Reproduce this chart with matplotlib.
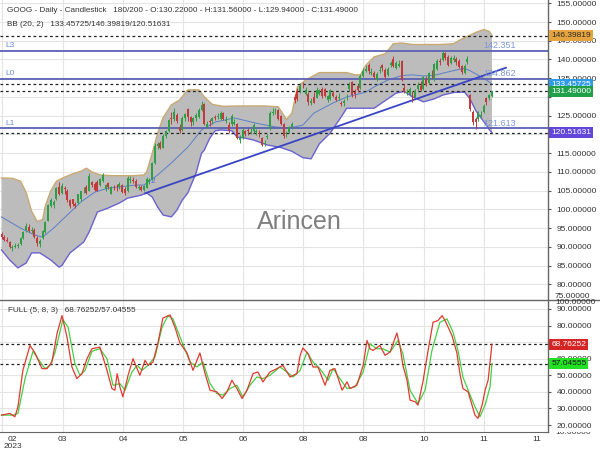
import matplotlib
matplotlib.use('Agg')
import matplotlib.pyplot as plt
from matplotlib.transforms import blended_transform_factory
from matplotlib.lines import Line2D

plt.rcParams['font.family'] = ['Liberation Sans', 'DejaVu Sans']

# ---------------- data ----------------
opens = [93.5, 92.7, 91.9, 91.2, 89.6, 90.0, 90.2, 90.9, 92.5, 94.4,
         95.2, 94.3, 94.5, 92.4, 90.8, 92.4, 94.1, 97.0, 100.9, 101.1,
         102.7, 105.9, 104.3, 105.8, 105.0, 102.4, 102.7, 101.4, 101.7, 102.7,
         104.8, 106.1, 105.0, 107.4, 106.9, 107.4, 106.5, 107.7, 105.4, 107.0,
         104.2, 106.1, 106.1, 106.0, 106.6, 105.5, 105.0, 107.8, 107.9, 107.7,
         105.6, 106.1, 105.3, 105.8, 107.4, 108.1, 112.3, 116.8, 117.7, 116.5,
         119.6, 121.0, 124.4, 124.1, 125.1, 122.1, 121.3, 124.4, 126.7, 124.6,
         123.3, 124.4, 124.6, 126.5, 128.0, 122.1, 123.5, 123.5, 124.6, 124.7,
         124.0, 125.7, 123.6, 122.5, 122.7, 122.8, 122.8, 118.6, 119.1, 120.8,
         121.1, 120.3, 120.9, 120.6, 120.3, 119.1, 117.4, 119.3, 121.5, 125.7,
         125.9, 126.5, 124.8, 122.8, 120.0, 120.6, 122.0, 130.1, 131.6, 131.6,
         133.2, 130.9, 130.9, 128.3, 130.0, 129.8, 130.7, 132.1, 132.0, 129.1,
         129.4, 131.1, 130.1, 129.8, 128.5, 128.4, 129.9, 132.0, 134.0, 131.4,
         133.0, 132.3, 135.6, 137.0, 138.4, 136.4, 136.3, 134.6, 136.9, 138.5,
         137.1, 135.9, 138.4, 140.2, 137.6, 138.3, 139.6, 132.4, 131.1, 130.9,
         131.3, 130.0, 132.0, 133.0, 132.1, 134.9, 133.7, 136.1, 134.9, 137.5,
         139.5, 139.8, 141.6, 140.7, 139.0, 139.9, 140.2, 139.7, 138.2, 136.4,
         139.2, 130.4, 126.0, 124.0, 124.2, 125.0, 125.9, 129.6, 129.6, 130.22]
highs = [94.0, 93.2, 92.6, 91.5, 90.6, 91.0, 91.1, 92.6, 94.3, 96.3,
         96.1, 95.2, 95.0, 92.8, 92.2, 94.6, 97.0, 101.5, 103.0, 102.6,
         106.0, 107.4, 107.0, 106.2, 105.4, 102.9, 102.9, 101.9, 104.2, 105.0,
         106.1, 106.6, 109.6, 107.6, 107.2, 107.8, 108.3, 109.6, 106.9, 107.2,
         106.3, 106.6, 106.8, 107.2, 106.9, 106.0, 109.0, 108.8, 108.6, 108.0,
         106.6, 106.4, 106.5, 108.6, 108.3, 112.7, 117.7, 118.0, 118.2, 120.0,
         121.2, 124.2, 126.0, 127.0, 125.8, 122.9, 124.9, 125.7, 127.1, 124.9,
         124.7, 125.6, 127.0, 129.0, 128.4, 123.7, 124.0, 124.7, 125.2, 125.6,
         126.2, 126.0, 124.8, 123.3, 125.4, 124.0, 123.0, 119.8, 121.6, 121.2,
         121.6, 121.6, 123.0, 121.5, 121.1, 119.4, 118.4, 120.2, 126.2, 127.1,
         127.0, 126.9, 125.3, 123.0, 121.0, 122.2, 123.2, 130.8, 132.4, 133.7,
         134.0, 132.6, 131.2, 129.7, 131.3, 132.6, 132.2, 132.7, 132.4, 130.6,
         132.2, 131.6, 130.6, 131.0, 129.0, 129.4, 130.8, 134.0, 134.3, 132.0,
         133.5, 136.0, 137.6, 138.6, 139.0, 137.7, 136.9, 136.6, 138.2, 138.9,
         137.6, 137.9, 139.7, 140.8, 139.5, 139.8, 139.9, 133.5, 132.2, 132.6,
         131.5, 132.0, 134.0, 134.2, 135.5, 135.6, 136.6, 137.1, 139.0, 140.0,
         140.5, 142.2, 142.1, 141.1, 140.9, 141.2, 140.6, 140.2, 138.6, 138.8,
         140.8, 130.9, 126.4, 124.7, 126.2, 126.2, 128.1, 129.9, 130.8, 131.56]
lows = [92.2, 91.5, 91.2, 89.7, 89.0, 89.6, 89.8, 90.6, 92.2, 94.0,
        93.9, 93.6, 92.4, 90.3, 90.0, 92.0, 93.8, 96.8, 100.6, 100.3,
        102.5, 103.9, 104.0, 104.2, 102.0, 100.3, 101.0, 100.3, 101.4, 102.3,
        104.4, 104.1, 104.8, 105.9, 104.9, 104.9, 106.2, 107.4, 104.9, 105.5,
        104.0, 105.2, 104.9, 105.4, 104.3, 103.9, 104.6, 107.0, 107.1, 105.6,
        105.1, 104.8, 104.9, 105.6, 106.9, 107.9, 112.0, 116.2, 116.0, 116.3,
        119.0, 120.6, 122.9, 123.5, 123.0, 120.3, 120.9, 123.7, 123.6, 122.2,
        122.6, 123.6, 124.4, 126.3, 122.6, 121.6, 122.3, 122.9, 123.8, 124.1,
        123.9, 123.9, 123.0, 120.5, 122.2, 122.4, 118.9, 117.8, 118.7, 119.6,
        119.9, 120.0, 120.5, 119.8, 119.4, 116.8, 116.9, 118.9, 121.3, 125.1,
        125.4, 123.8, 122.4, 119.0, 119.3, 120.4, 121.5, 128.3, 128.8, 131.1,
        132.5, 130.6, 127.9, 127.8, 128.3, 129.6, 130.4, 129.8, 129.9, 128.6,
        129.2, 129.9, 128.8, 129.3, 127.5, 127.6, 129.2, 131.7, 130.1, 129.6,
        131.3, 132.0, 135.2, 136.6, 136.2, 135.8, 134.8, 134.2, 136.5, 136.8,
        134.9, 135.5, 138.0, 138.0, 137.4, 137.9, 134.3, 131.0, 130.5, 130.4,
        128.6, 129.6, 131.3, 131.6, 131.9, 132.8, 133.4, 135.0, 134.3, 137.3,
        138.6, 139.5, 139.9, 138.2, 138.7, 139.4, 138.6, 137.6, 136.2, 136.0,
        138.8, 126.3, 122.5, 121.5, 123.6, 124.3, 125.6, 127.9, 129.1, 129.94]
closes = [92.6, 91.8, 91.6, 90.1, 90.1, 90.3, 90.5, 92.3, 94.0, 95.6,
          94.2, 94.6, 92.7, 91.0, 91.7, 94.3, 96.6, 101.1, 102.5, 101.9,
          105.8, 104.2, 106.3, 105.4, 102.5, 101.0, 101.4, 100.9, 104.0, 104.9,
          105.0, 104.5, 108.9, 106.4, 105.1, 105.0, 108.1, 109.2, 106.4, 105.9,
          105.9, 105.9, 105.9, 106.8, 104.6, 104.4, 108.4, 108.2, 107.7, 105.9,
          106.1, 105.2, 106.2, 108.2, 107.9, 112.3, 117.0, 117.5, 116.5, 119.5,
          120.8, 123.8, 124.0, 126.0, 123.5, 120.9, 124.4, 125.4, 124.6, 123.4,
          124.4, 125.2, 126.6, 127.9, 122.9, 122.7, 123.4, 124.4, 124.4, 124.9,
          125.8, 124.1, 123.9, 121.3, 125.0, 123.2, 119.1, 119.0, 121.1, 120.0,
          121.0, 120.6, 122.6, 120.9, 120.1, 117.3, 117.7, 119.6, 125.7, 126.0,
          126.2, 124.1, 122.8, 119.5, 120.3, 121.9, 122.8, 129.3, 129.4, 133.0,
          133.1, 131.9, 128.6, 128.8, 128.5, 131.9, 131.8, 130.2, 130.2, 130.2,
          131.8, 130.3, 129.1, 130.0, 128.1, 128.9, 130.0, 133.2, 130.4, 130.7,
          131.8, 135.5, 136.9, 137.4, 136.8, 136.7, 135.4, 136.2, 137.2, 137.7,
          135.3, 137.5, 139.0, 138.3, 139.0, 138.8, 134.6, 131.4, 131.3, 132.2,
          129.5, 131.5, 133.1, 131.9, 135.2, 133.3, 136.3, 136.0, 138.7, 139.5,
          139.2, 141.7, 140.3, 138.6, 140.5, 140.3, 139.3, 138.0, 136.7, 138.3,
          140.1, 126.7, 123.4, 123.4, 125.8, 125.3, 127.6, 128.6, 130.4, 131.49]

bb_upper_x = [0, 4, 7, 9, 11, 13, 15, 16, 18, 20, 23, 26, 29, 31, 33, 36, 40, 44, 48, 52,
              53, 55, 57, 59, 62, 65, 68, 72, 74, 77, 81, 86, 91, 96, 101, 104, 106, 108, 111, 116,
              121, 126, 129, 131, 133, 136, 140, 143, 146, 150, 155, 160, 165, 168, 171, 173, 176, 178, 179]
bb_upper = [108.4, 108.3, 107.5, 104.5, 99.5, 96.8, 97.3, 101.0, 105.0, 107.5, 108.6, 109.5, 110.2, 111.0, 110.0, 109.2, 109.0, 109.0, 109.0, 109.2,
            110.0, 115.0, 120.4, 124.5, 127.9, 129.2, 131.9, 131.9, 130.0, 128.0, 127.5, 127.6, 127.6, 127.6, 127.4, 124.0, 125.7, 132.7, 134.5, 136.5,
            136.5, 136.5, 135.9, 135.9, 138.5, 140.7, 141.5, 144.2, 144.4, 144.0, 144.0, 144.0, 144.2, 145.5, 146.5, 147.2, 148.0, 147.5, 146.39819]
bb_mid_x = [0, 7, 12, 15, 19, 24, 29, 34, 39, 49, 52, 57, 62, 68, 73, 78, 85, 93, 100, 105,
            110, 114, 121, 126, 133, 136, 141, 146, 150, 154, 158, 162, 166, 169, 171, 174, 177, 179]
bb_mid = [98.0, 95.0, 93.2, 92.6, 95.0, 98.5, 102.0, 104.6, 105.7, 106.5, 106.5, 109.2, 112.4, 116.6, 121.2, 123.3, 124.4, 123.0, 122.0, 121.7,
          122.5, 125.7, 128.4, 130.0, 131.3, 132.7, 134.5, 135.7, 135.9, 135.6, 135.8, 136.5, 137.2, 137.6, 137.0, 135.8, 134.5, 133.45725]
bb_lower_x = [0, 3, 6, 9, 11, 14, 18, 21, 22, 25, 30, 32, 35, 39, 43, 46, 51, 53, 55, 57,
              59, 62, 64, 66, 68, 71, 73, 74, 76, 78, 80, 84, 86, 89, 92, 97, 102, 106, 110, 113,
              116, 120, 124, 126, 131, 136, 140, 144, 147, 150, 154, 158, 161, 165, 169, 171, 173, 175, 177, 178, 179]
bb_lower = [89.2, 86.5, 84.4, 85.7, 88.4, 88.4, 86.5, 84.6, 85.0, 88.4, 91.3, 94.0, 99.3, 100.4, 101.7, 103.0, 103.8, 104.4, 103.3, 100.6,
            98.5, 98.0, 99.8, 102.5, 104.4, 109.7, 115.0, 115.8, 119.0, 121.0, 121.2, 121.0, 119.3, 119.0, 118.5, 117.2, 116.5, 115.5, 113.8, 113.5,
            117.5, 120.4, 124.7, 127.0, 127.0, 127.0, 129.0, 131.0, 131.5, 130.0, 128.7, 129.5, 130.5, 131.2, 131.3, 129.5, 126.5, 124.4, 122.5, 121.3, 120.51631]

stoch_k_x = [0, 3.1, 4.9, 6.0, 7.8, 10.4, 12.2, 14.8, 16.6, 18.4, 20.3, 22.1, 23.9, 25.7, 27.5, 29.4, 31.2, 33.0, 35.9, 38.5,
             40.3, 41.4, 42.2, 43.2, 44.3, 46.2, 48.0, 50.5, 52.4, 53.5, 55.3, 57.1, 58.9, 61.5, 63.3, 65.1, 67.7, 69.9, 72.4, 74.3,
             76.1, 78.6, 80.5, 82.3, 84.1, 85.9, 87.8, 89.6, 91.8, 93.6, 95.4, 98.0, 100.5, 102.7, 105.3, 107.8, 109.0, 110.0, 111.9, 113.7,
             115.5, 118.1, 119.9, 121.7, 124.3, 126.1, 127.2, 129.7, 132.0, 133.4, 134.5, 135.6, 138.1, 140.0, 141.8, 144.3, 145.4, 146.5, 148.0, 149.1,
             151.0, 152.0, 153.8, 155.7, 157.5, 159.3, 160.8, 161.9, 164.4, 166.2, 167.3, 168.4, 170.3, 172.8, 173.9, 175.4, 176.5, 177.6, 179.0]
stoch_k = [26, 27, 25, 31, 53, 68, 63.5, 54, 54, 58, 75.5, 86, 73, 55, 48, 51, 60, 66, 67, 53,
           42, 41, 51, 43, 37, 50, 60, 50, 59, 56, 58, 69.5, 84.5, 86.4, 79, 69.5, 63.5, 53, 63.5, 51,
           41, 40, 36, 40, 47, 42, 36, 41, 51, 52, 46, 52, 54, 56, 49, 51, 62, 66.5, 63, 55,
           55, 44, 53, 54, 41, 46, 42, 44, 56, 71, 66, 65, 68, 62, 64, 75.5, 68, 56, 47, 35,
           34, 32, 46, 65, 82, 83, 86, 83, 74, 63.5, 51, 42, 40, 26, 24, 32, 41, 47, 68.76252]
stoch_d_x = [0, 4.2, 6.0, 8.6, 11.5, 13.3, 15.9, 17.7, 19.5, 22.4, 24.3, 26.8, 28.6, 30.5, 33.0, 35.9, 38.5, 40.7, 43.2, 45.1,
             47.6, 49.5, 51.3, 53.5, 56.0, 58.6, 60.8, 62.6, 65.9, 68.8, 71.3, 73.5, 76.1, 78.6, 80.8, 83.4, 85.9, 88.1, 90.7, 93.2,
             95.4, 98.0, 101.6, 104.2, 106.4, 109.0, 111.5, 113.7, 116.2, 119.2, 121.0, 123.5, 126.1, 129.0, 132.0, 134.5, 137.0, 139.2, 141.8, 144.7,
             146.5, 149.1, 152.0, 154.6, 157.1, 160.0, 162.6, 164.8, 166.6, 168.4, 170.3, 172.8, 174.6, 176.5, 178.3, 179.0]
stoch_d = [26, 26, 27, 48, 64.5, 60, 54, 56, 63.5, 83.6, 79, 57, 50, 53, 64.5, 66, 60, 44, 45, 41,
           52, 56, 53, 56, 61, 79, 86, 84, 70, 58, 55, 58, 45, 39, 38, 42, 44, 37, 44, 49,
           48, 50, 55, 52, 49, 53, 64, 58, 54, 47, 54, 48, 42, 43, 52, 69, 66, 66, 64, 71,
           63, 41, 33, 41, 65, 82, 84, 76, 65, 49, 41, 31, 25, 32, 43, 57.04555]

level_names = ['L3', 'L0', 'L1']
level_values = [142.351, 134.862, 121.613]
dashed_main = [146.39819, 133.45725, 131.49, 120.51631]
dashed_stoch = [68.76252, 57.04555]
trend_x = [52.4, 184.1]
trend_y = [104.3, 137.8]
month_pos = [3.8, 22.1, 44.3, 66.2, 88.1, 110.0, 131.9, 154.2, 176.1, 195.4]
month_labels = ['02', '03', '04', '05', '06', '08', '08', '10', '11', '11']
vgrid_pos = [0.2, 22.4, 44.3, 66.2, 88.1, 110.0, 131.9, 154.2, 176.1]
main_ticks = [80, 85, 90, 95, 100, 105, 110, 115, 120, 125, 130, 135, 140, 145, 150, 155]
main_hidden = [120, 130]          # covered by value boxes in the reference
stoch_ticks = [20, 30, 40, 50, 60, 70, 80, 90]
stoch_hidden = [70]

# ---------------- figure ----------------
fig = plt.figure(figsize=(6, 4.5), dpi=100)
ax1 = fig.add_axes([0, 0.3333, 0.9133, 0.6667])
ax2 = fig.add_axes([0, 0.04, 0.9133, 0.2911])

GRID = '#e4e4e4'
TXT = '#333333'
for ax in (ax1, ax2):
    ax.set_xlim(-0.55, 199.45)
    ax.set_facecolor('white')
    for s in ('left', 'top', 'bottom'):
        ax.spines[s].set_visible(False)
    ax.spines['right'].set_color('#666666')
    ax.spines['right'].set_linewidth(1.0)
    ax.yaxis.tick_right()
    ax.tick_params(axis='y', length=2, pad=4, labelsize=6, colors='#555555', labelcolor=TXT)
    for v in vgrid_pos:
        ax.axvline(v, color=GRID, lw=0.8, zorder=0)

ax1.set_ylim(75.83, 155.87)
ax1.set_yticks(main_ticks)
ax1.set_yticklabels(['' if t in main_hidden else '%.5f' % t for t in main_ticks])
ax1.set_xticks([])
for t in main_ticks:
    ax1.axhline(t, color=GRID, lw=0.8, zorder=0)

# Bollinger band
poly_x = bb_upper_x + bb_lower_x[::-1]
poly_y = bb_upper + bb_lower[::-1]
ax1.fill(poly_x, poly_y, color='#bcbcbc', zorder=1, lw=0)
ax1.plot(bb_upper_x, bb_upper, color='#c8aa72', lw=1.0, zorder=2)
ax1.plot(bb_lower_x, bb_lower, color='#6a62d0', lw=1.0, zorder=2)
ax1.plot(bb_mid_x, bb_mid, color='#5a7fc8', lw=0.7, zorder=2)

# level lines
for name, v in zip(level_names, level_values):
    ax1.axhline(v, color='#5b61b3', lw=1.3, zorder=3)
    ax1.text(1.5, v + 1.3, name, color='#6d8bd6', fontsize=6, va='center', ha='left', zorder=4)
    ax1.text(176.0, v + 1.3, '%.3f' % v, color='#7b96d8', fontsize=6.5, va='center', ha='left', zorder=4)
for v in dashed_main:
    ax1.axhline(v, color='#222222', lw=0.9, ls=(0, (2.2, 2.2)), zorder=3)

# trend line
ax1.plot(trend_x, trend_y, color='#3a44c4', lw=1.3, zorder=3)
ax1.text(55.2, 107.4, '2', color='#4a6ad8', fontsize=6, ha='center', va='center', zorder=4)

# candles
idx = list(range(len(closes)))
cols = ['#2f9e44' if c >= o else '#c23a3a' for o, c in zip(opens, closes)]
ax1.vlines(idx, lows, highs, colors=cols, lw=0.7, zorder=5)
bottoms = [min(o, c) for o, c in zip(opens, closes)]
heights = [max(abs(c - o), 0.15) for o, c in zip(opens, closes)]
ax1.bar(idx, heights, bottom=bottoms, width=0.72, color=cols, lw=0, zorder=6)

# watermark
ax1.text(0.547, 0.26, 'Arincen', transform=ax1.transAxes, fontsize=18, color='#7f7f7f',
         ha='center', va='center', zorder=7)

# header texts
fig.text(7 / 600, 1 - 10 / 450,
         'GOOG - Daily - Candlestick   180/200 - O:130.22000 - H:131.56000 - L:129.94000 - C:131.49000',
         fontsize=5.9, color=TXT, va='center', ha='left')
fig.text(7 / 600, 1 - 25 / 450, 'BB (20, 2)   133.45725/146.39819/120.51631',
         fontsize=5.9, color=TXT, va='center', ha='left')

# stochastic panel
ax2.set_ylim(15.8, 94.8)
ax2.set_yticks(stoch_ticks)
ax2.set_yticklabels(['' if t in stoch_hidden else '%.5f' % t for t in stoch_ticks])
for t in stoch_ticks:
    ax2.axhline(t, color=GRID, lw=0.8, zorder=0)
ax2.spines['bottom'].set_visible(True)
ax2.spines['bottom'].set_color('#666666')
ax2.set_xticks(month_pos)
ax2.set_xticklabels(month_labels)
ax2.tick_params(axis='x', length=0, pad=3, labelsize=6, labelcolor=TXT)
for v in dashed_stoch:
    ax2.axhline(v, color='#222222', lw=0.9, ls=(0, (2.2, 2.2)), zorder=3)
ax2.plot(stoch_d_x, stoch_d, color='#44d044', lw=0.9, zorder=4)
ax2.plot(stoch_k_x, stoch_k, color='#e03a2e', lw=0.9, zorder=5)
fig.text(8 / 600, 1 - 310 / 450, 'FULL (5, 8, 3)   68.76252/57.04555',
         fontsize=5.9, color=TXT, va='center', ha='left')
fig.text(4 / 600, 1 - 446 / 450, '2023', fontsize=6, color=TXT, va='center', ha='left')

# separator line between panels
fig.add_artist(Line2D([0, 1], [1 - 300 / 450, 1 - 300 / 450], color='#666666', lw=1.0))

# extra axis labels squeezed at panel edges
fig.text(555 / 600, 1 - 296 / 450, '75.00000', fontsize=6, color=TXT, va='center', ha='left')
fig.text(555 / 600, 1 - 302.5 / 450, '100.00000', fontsize=6, color=TXT, va='center', ha='left')
t10 = fig.text(555 / 600, 1 - 433 / 450, '10.00000', fontsize=6, color=TXT, va='center', ha='left')
t10.set_clip_box(matplotlib.transforms.Bbox.from_extents(0, 0, 600, 450 - 432))
t10.set_clip_on(True)

# value boxes on the right axis
def value_box(ax, y, text, bg, fg):
    tr = blended_transform_factory(ax.transAxes, ax.transData)
    ax.text(1.006, y, text, transform=tr, fontsize=6, color=fg, ha='left', va='center',
            zorder=10, clip_on=False,
            bbox=dict(boxstyle='square,pad=0.22', fc=bg, ec='none'))

value_box(ax1, 146.39819, '146.39819', '#e6a43e', '#2a2a2a')
value_box(ax1, 133.45725, '133.45725', '#2e9be6', 'white')
value_box(ax1, 131.49, '131.49000', '#21a04a', 'white')
value_box(ax1, 120.51631, '120.51631', '#6446d8', 'white')
value_box(ax2, 68.76252, '68.76252', '#d42424', 'white')
value_box(ax2, 57.04555, '57.04555', '#22e022', '#1a1a1a')

fig.savefig('out.png', dpi=100)
